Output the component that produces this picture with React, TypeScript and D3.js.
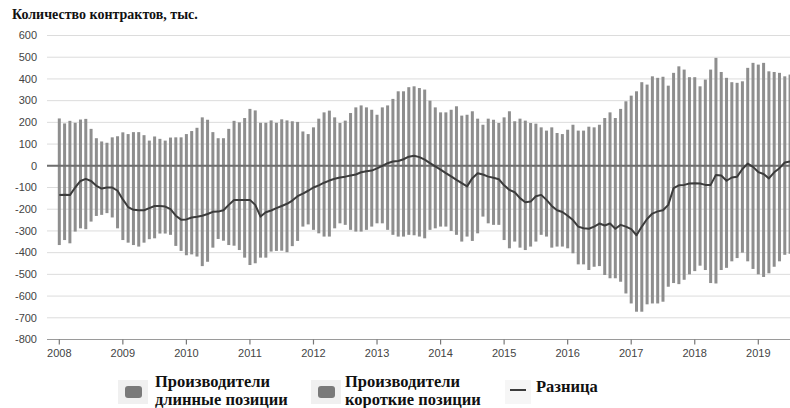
import React from "react";
import * as d3 from "d3";

// Monthly data, Jan 2008 .. Jul 2019 (thousand contracts)
const startYear = 2008;
const longPos: number[] = [
  218, 195, 207, 198, 213, 216, 170, 127, 112, 106, 131, 136,
  154, 146, 155, 155, 141, 116, 135, 124, 116, 130, 131, 131,
  146, 160, 175, 223, 212, 155, 127, 127, 170, 207, 200, 220,
  262, 255, 198, 198, 209, 198, 214, 209, 205, 202, 158, 146,
  177, 217, 246, 254, 223, 197, 208, 243, 269, 278, 269, 258,
  235, 269, 278, 308, 343, 343, 362, 366, 358, 351, 300, 269,
  246, 246, 258, 274, 231, 235, 251, 217, 189, 217, 212, 197,
  223, 251, 205, 217, 208, 197, 194, 177, 162, 177, 151, 146,
  166, 189, 162, 162, 180, 177, 189, 220, 246, 220, 262, 297,
  323, 343, 385, 374, 412, 405, 410, 369, 428, 458, 443, 408,
  408, 366, 397, 443, 497, 432, 405, 385, 382, 389, 451, 474,
  466, 474, 435, 432, 428, 412, 420,
];
const shortPos: number[] = [
  -365, -342, -357, -303, -288, -292, -257, -231, -226, -218, -238, -288,
  -342, -354, -365, -372, -354, -338, -334, -312, -312, -318, -369, -392,
  -412, -408, -418, -462, -442, -377, -337, -345, -365, -368, -388, -423,
  -457, -449, -423, -423, -395, -392, -391, -398, -370, -346, -280, -270,
  -295, -311, -326, -326, -288, -265, -272, -295, -303, -303, -295, -280,
  -265, -265, -295, -318, -326, -326, -318, -320, -326, -334, -295, -288,
  -280, -280, -300, -318, -349, -326, -346, -311, -234, -265, -272, -272,
  -342, -380, -349, -377, -388, -372, -349, -318, -326, -377, -372, -372,
  -380, -403, -454, -454, -480, -465, -462, -503, -518, -518, -534, -588,
  -634, -672, -672, -638, -634, -634, -626, -557, -540, -545, -525, -500,
  -485, -460, -480, -540, -542, -480, -470, -440, -425, -400, -440, -475,
  -500, -512, -495, -465, -440, -410, -405,
];
const diff: number[] = [
  -135, -133, -135, -100, -70, -60, -70, -92, -105, -100, -100, -115,
  -155, -190, -203, -205, -205, -195, -185, -185, -188, -200, -230, -248,
  -247, -238, -235, -230, -222, -212, -211, -205, -180, -158, -157, -157,
  -157, -180, -234, -214, -206, -195, -185, -175, -160, -140, -128, -115,
  -100, -90, -78, -68, -60, -54, -50, -45, -40, -30, -25, -22,
  -12, 0, 12, 20, 22, 30, 42, 46, 40, 28, 12, -3,
  -18, -34, -49, -65, -80, -95, -57, -34, -40, -50, -55, -62,
  -90, -111, -122, -149, -168, -165, -140, -134, -157, -185, -205, -213,
  -230, -250, -280, -288, -290, -280, -266, -275, -266, -290, -272, -280,
  -292, -320, -280, -245, -220, -210, -205, -180, -103, -90, -88, -82,
  -80, -82, -88, -88, -42, -45, -69, -54, -50, -15, 10, -5,
  -29, -38, -58, -30, -11, 15, 20,
];
const yTicks: number[] = [600, 500, 400, 300, 200, 100, 0, -100, -200, -300, -400, -500, -600, -700, -800];
const xYears: number[] = [2008, 2009, 2010, 2011, 2012, 2013, 2014, 2015, 2016, 2017, 2018, 2019];

const title = "Количество контрактов, тыс.";
const legendLong = ["Производители", "длинные позиции"];
const legendShort = ["Производители", "короткие позиции"];
const legendDiff = "Разница";

const W = 790;
const H = 408;

export default function App() {
  const x = d3.scaleLinear().domain([2008, 2019]).range([59.3, 758.3]);
  const y = d3.scaleLinear().domain([-800, 600]).range([339.5, 35.5]);
  const t = (i: number) => startYear + i / 12;
  const barW = 3;
  const barColor = "#8e8e8e";
  const line = d3
    .line<number>()
    .x((_, i) => x(t(i)))
    .y((d) => y(d));

  const sans = "'Liberation Sans', Arial, sans-serif";
  const serif = "'Liberation Serif', 'Times New Roman', serif";

  return (
    <svg
      width={W}
      height={H}
      style={{ position: "absolute", left: 0, top: 0, background: "#fff" }}
    >
      <text x={12} y={19} fontFamily={serif} fontWeight="bold" fontSize={14} fill="#111">
        {title}
      </text>
      {/* grid */}
      {yTicks.map((v) => (
        <g key={v}>
          <line
            x1={47}
            x2={W}
            y1={y(v)}
            y2={y(v)}
            stroke={v === -800 ? "#9a9a9a" : "#dcdcdc"}
            strokeWidth={v === -800 ? 1.2 : 1}
          />
          <text
            x={37}
            y={y(v)}
            dy="0.35em"
            textAnchor="end"
            fontFamily={sans}
            fontSize={11}
            fill="#444"
          >
            {v}
          </text>
        </g>
      ))}
      {/* x ticks */}
      {xYears.map((yr) => (
        <g key={yr}>
          <line x1={x(yr)} x2={x(yr)} y1={y(-800)} y2={y(-800) + 5} stroke="#777" strokeWidth={1.2} />
          <text x={x(yr)} y={y(-800) + 17} textAnchor="middle" fontFamily={sans} fontSize={11} fill="#444">
            {yr}
          </text>
        </g>
      ))}
      {/* bars */}
      {longPos.map((v, i) => (
        <rect key={"l" + i} x={x(t(i)) - barW / 2} y={y(v)} width={barW} height={y(0) - y(v)} fill={barColor} />
      ))}
      {shortPos.map((v, i) => (
        <rect key={"s" + i} x={x(t(i)) - barW / 2} y={y(0)} width={barW} height={y(v) - y(0)} fill={barColor} />
      ))}
      {/* zero line */}
      <line x1={47} x2={W} y1={y(0)} y2={y(0)} stroke="#6e6e6e" strokeWidth={2} />
      {/* difference line */}
      <path d={line(diff) || ""} fill="none" stroke="#3c3c3c" strokeWidth={2} strokeLinejoin="round" />
      {/* legend */}
      <g>
        <rect x={118} y={380} width={30} height={24} fill="#f0f0f0" />
        <rect x={125} y={386} width={17} height={12} rx={3} fill="#7a7a7a" />
        <text fontFamily={serif} fontWeight="bold" fontSize={16.5} fill="#111">
          <tspan x={155} y={387}>{legendLong[0]}</tspan>
          <tspan x={155} y={405}>{legendLong[1]}</tspan>
        </text>
        <rect x={311} y={380} width={30} height={24} fill="#f0f0f0" />
        <rect x={318} y={386} width={17} height={12} rx={3} fill="#7a7a7a" />
        <text fontFamily={serif} fontWeight="bold" fontSize={16.5} fill="#111">
          <tspan x={345} y={387}>{legendShort[0]}</tspan>
          <tspan x={345} y={405}>{legendShort[1]}</tspan>
        </text>
        <rect x={505} y={380} width={26} height={24} fill="#f6f6f6" />
        <line x1={510} x2={526} y1={390} y2={390} stroke="#3c3c3c" strokeWidth={2} />
        <text x={536} y={392} fontFamily={serif} fontWeight="bold" fontSize={16.5} fill="#111">
          {legendDiff}
        </text>
      </g>
    </svg>
  );
}
